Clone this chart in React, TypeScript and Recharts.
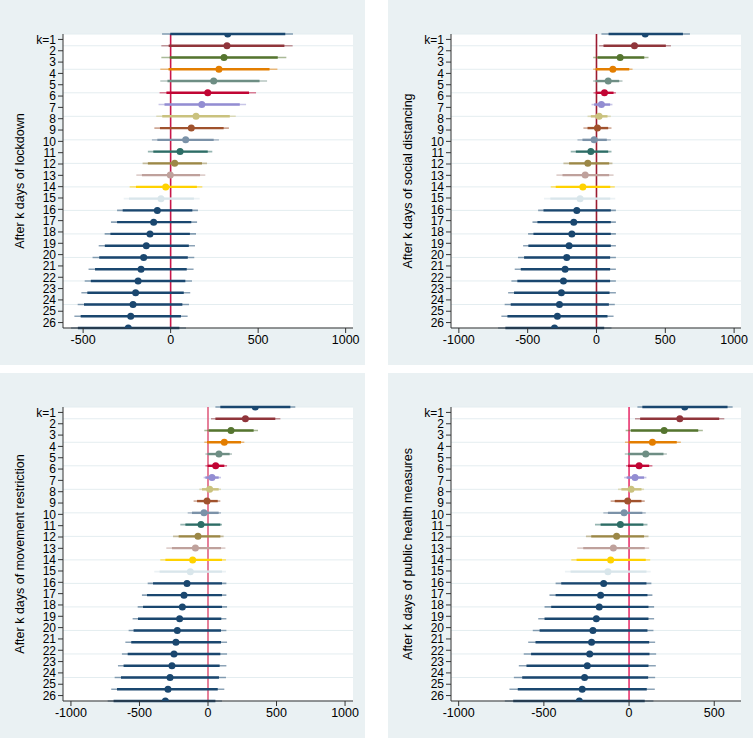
import { ComposedChart, Scatter, XAxis, YAxis, CartesianGrid, ReferenceLine, Label } from "recharts";

// rows k = 1..26 and their tick labels
const ROWS = [1, 2, 3, 4, 5, 6, 7, 8, 9, 10, 11, 12, 13, 14, 15, 16, 17, 18, 19, 20, 21, 22, 23, 24, 25, 26];
const ROW_LABELS = ["k=1", "2", "3", "4", "5", "6", "7", "8", "9", "10", "11", "12", "13", "14", "15", "16", "17", "18", "19", "20", "21", "22", "23", "24", "25", "26"];

// Stata s2color order, then navy for the rest
const COLORS = [
  "#1a476f", "#90353b", "#55752f", "#e37e00", "#6e8e84", "#c10534", "#938dd2", "#cac27e",
  "#a0522d", "#7b92a8", "#2d6d66", "#9c8847", "#bfa19c", "#ffd200", "#d9e6eb",
  "#1a476f", "#1a476f", "#1a476f", "#1a476f", "#1a476f", "#1a476f", "#1a476f", "#1a476f",
  "#1a476f", "#1a476f", "#1a476f",
];

// lockdown
const lockCoef = [326, 322, 305, 276, 246, 212, 178, 145, 118, 86, 54, 23, -2, -28, -55, -76, -97, -118, -139, -154, -169, -186, -200, -215, -228, -242];
const lockLo95 = [-49, -53, -53, -59, -59, -63, -69, -82, -93, -107, -130, -160, -196, -234, -268, -306, -341, -377, -411, -446, -469, -491, -510, -531, -550, -569];
const lockHi95 = [699, 697, 661, 610, 551, 488, 431, 372, 333, 276, 238, 208, 198, 181, 166, 156, 151, 145, 139, 135, 131, 122, 112, 105, 97, 88];
const lockLo90 = [-2, -11, -5, -12, -18, -24, -35, -48, -61, -76, -99, -130, -164, -198, -238, -274, -306, -344, -376, -408, -432, -456, -476, -495, -514, -530];
const lockHi90 = [655, 650, 612, 565, 508, 448, 395, 338, 303, 246, 212, 179, 168, 150, 133, 124, 118, 110, 104, 98, 92, 84, 75, 67, 59, 50];

// social distancing
const distCoef = [354, 276, 172, 119, 85, 58, 36, 19, 7, -17, -41, -63, -82, -99, -119, -143, -165, -179, -199, -216, -228, -240, -255, -269, -284, -305];
const distLo95 = [36, 19, -24, -24, -24, -22, -36, -65, -95, -138, -187, -240, -291, -332, -381, -424, -465, -497, -533, -570, -594, -618, -642, -667, -691, -715];
const distHi95 = [679, 541, 378, 262, 189, 141, 116, 104, 109, 104, 109, 116, 124, 133, 136, 141, 141, 141, 141, 141, 141, 141, 141, 133, 124, 109];
const distLo90 = [88, 51, 7, -5, -5, -5, -17, -41, -65, -102, -150, -199, -247, -296, -335, -385, -429, -458, -495, -526, -550, -575, -599, -623, -647, -662];
const distHi90 = [628, 504, 347, 238, 165, 124, 99, 80, 85, 75, 85, 92, 92, 100, 100, 104, 104, 104, 104, 99, 99, 99, 95, 90, 80, 56];

// movement restriction
const moveCoef = [345, 273, 168, 119, 80, 56, 29, 12, -7, -29, -51, -73, -92, -112, -129, -153, -175, -187, -207, -224, -234, -248, -263, -277, -292, -311];
const moveLo95 = [54, 22, -27, -27, -19, -19, -32, -63, -105, -148, -202, -255, -304, -348, -392, -440, -482, -513, -550, -579, -603, -628, -657, -681, -706, -732];
const moveHi95 = [637, 528, 365, 265, 175, 139, 95, 95, 90, 95, 102, 114, 127, 131, 131, 134, 134, 139, 134, 134, 139, 139, 134, 131, 119, 102];
const moveLo90 = [90, 54, 5, -7, -2, -2, -19, -44, -80, -117, -165, -214, -263, -311, -353, -401, -445, -474, -511, -543, -560, -586, -616, -635, -664, -689];
const moveHi90 = [601, 491, 333, 241, 158, 119, 78, 78, 71, 78, 90, 90, 95, 102, 102, 102, 102, 102, 97, 95, 95, 90, 85, 80, 71, 54];

// public health measures
const phmCoef = [327, 298, 206, 137, 98, 59, 35, 12, -8, -29, -51, -73, -92, -108, -124, -149, -167, -175, -192, -212, -220, -231, -245, -261, -275, -292];
const phmLo95 = [49, 35, -20, -24, -25, -18, -29, -65, -108, -151, -200, -253, -304, -339, -376, -431, -467, -496, -533, -565, -592, -618, -647, -676, -702, -729];
const phmHi95 = [608, 559, 433, 304, 222, 137, 102, 88, 92, 98, 108, 114, 118, 124, 127, 131, 137, 147, 147, 143, 153, 159, 157, 153, 151, 143];
const phmLo90 = [78, 65, 10, 0, -6, -6, -14, -45, -84, -124, -167, -222, -269, -308, -343, -398, -431, -457, -496, -525, -549, -575, -602, -627, -653, -680];
const phmHi90 = [578, 529, 406, 280, 202, 118, 88, 73, 73, 78, 84, 88, 92, 98, 102, 102, 108, 114, 114, 108, 118, 120, 114, 112, 104, 92];

const BG = "#eaf1f3";
const AXIS = "#333";
const FONT = '"Liberation Sans", Arial, Helvetica, sans-serif';

type PanelProps = {
  title: string;
  coef: number[];
  lo95: number[];
  hi95: number[];
  lo90: number[];
  hi90: number[];
  xDomain: [number, number];
  xTicks: number[];
  zeroColor: string;
};

function Panel({ title, coef, lo95, hi95, lo90, hi90, xDomain, xTicks, zeroColor }: PanelProps) {
  const pts = coef.map((c, i) => ({ x: c, y: ROWS[i] }));

  const renderTitle = (props: any) => {
    const vb = props.viewBox;
    const cx = vb.x + 20;
    const cy = vb.y + vb.height / 2;
    return (
      <text x={cx} y={cy} transform={`rotate(-90 ${cx} ${cy})`} textAnchor="middle" dominantBaseline="central" fontSize={12.5} fill="#000">
        {title}
      </text>
    );
  };

  return (
    <ComposedChart width={365} height={365} margin={{ top: 34, right: 12, bottom: 0, left: 0 }}>
      <CartesianGrid fill="#fff" vertical={false} stroke="#e4edf0" strokeWidth={1} />
      <XAxis
        type="number"
        dataKey="x"
        domain={xDomain}
        ticks={xTicks}
        allowDataOverflow
        interval={0}
        height={37}
        tickSize={5}
        tickMargin={2}
        stroke={AXIS}
        tick={{ fill: "#000", fontSize: 12.5 }}
      />
      <YAxis
        yAxisId="lab"
        orientation="left"
        type="number"
        domain={[0.52, 26.48]}
        ticks={ROWS}
        reversed
        allowDataOverflow
        interval={0}
        width={63}
        tickSize={5}
        tickMargin={2}
        stroke={AXIS}
        tick={{ fill: "#000", fontSize: 12 }}
        tickFormatter={(v: number) => ROW_LABELS[v - 1]}
      >
        <Label content={renderTitle} />
      </YAxis>
      <YAxis yAxisId={0} orientation="right" width={0} type="number" dataKey="y" domain={[1, 26]} ticks={ROWS} reversed hide allowDataOverflow />
      <ReferenceLine x={0} stroke={zeroColor} strokeWidth={1.6} />
      {ROWS.map((k, i) => (
        <ReferenceLine
          key={"o" + k}
          segment={[{ x: lo95[i], y: k }, { x: hi95[i], y: k }]}
          stroke={COLORS[i]}
          strokeOpacity={0.5}
          strokeWidth={1.6}
        />
      ))}
      {ROWS.map((k, i) => (
        <ReferenceLine
          key={"i" + k}
          segment={[{ x: lo90[i], y: k }, { x: hi90[i], y: k }]}
          stroke={COLORS[i]}
          strokeWidth={2.4}
        />
      ))}
      <Scatter
        data={pts}
        isAnimationActive={false}
        shape={(p: any) => <circle cx={p.cx} cy={p.cy} r={3.5} fill={COLORS[p.payload.y - 1]} />}
      />
    </ComposedChart>
  );
}

const box = (left: number, top: number): React.CSSProperties => ({
  position: "absolute",
  left,
  top,
  width: 365,
  height: 365,
  background: BG,
});

export default function App() {
  return (
    <div style={{ position: "absolute", left: 0, top: 0, width: 753, height: 738, background: "#fff", fontFamily: FONT }}>
      <div style={box(0, 0)}>
        <Panel
          title="After k days of lockdown"
          coef={lockCoef}
          lo95={lockLo95}
          hi95={lockHi95}
          lo90={lockLo90}
          hi90={lockHi90}
          xDomain={[-615, 1042]}
          xTicks={[-500, 0, 500, 1000]}
          zeroColor="#c8174a"
        />
      </div>
      <div style={box(388, 0)}>
        <Panel
          title="After k days of social distancing"
          coef={distCoef}
          lo95={distLo95}
          hi95={distHi95}
          lo90={distLo90}
          hi90={distHi90}
          xDomain={[-1057, 1050]}
          xTicks={[-1000, -500, 0, 500, 1000]}
          zeroColor="#9b1b30"
        />
      </div>
      <div style={box(0, 373)}>
        <Panel
          title="After k days of movement restriction"
          coef={moveCoef}
          lo95={moveLo95}
          hi95={moveHi95}
          lo90={moveLo90}
          hi90={moveHi90}
          xDomain={[-1058, 1058]}
          xTicks={[-1000, -500, 0, 500, 1000]}
          zeroColor="#e06080"
        />
      </div>
      <div style={box(388, 373)}>
        <Panel
          title="After k days of public health measures"
          coef={phmCoef}
          lo95={phmLo95}
          hi95={phmHi95}
          lo90={phmLo90}
          hi90={phmHi90}
          xDomain={[-1045, 657]}
          xTicks={[-1000, -500, 0, 500]}
          zeroColor="#e8336e"
        />
      </div>
    </div>
  );
}
